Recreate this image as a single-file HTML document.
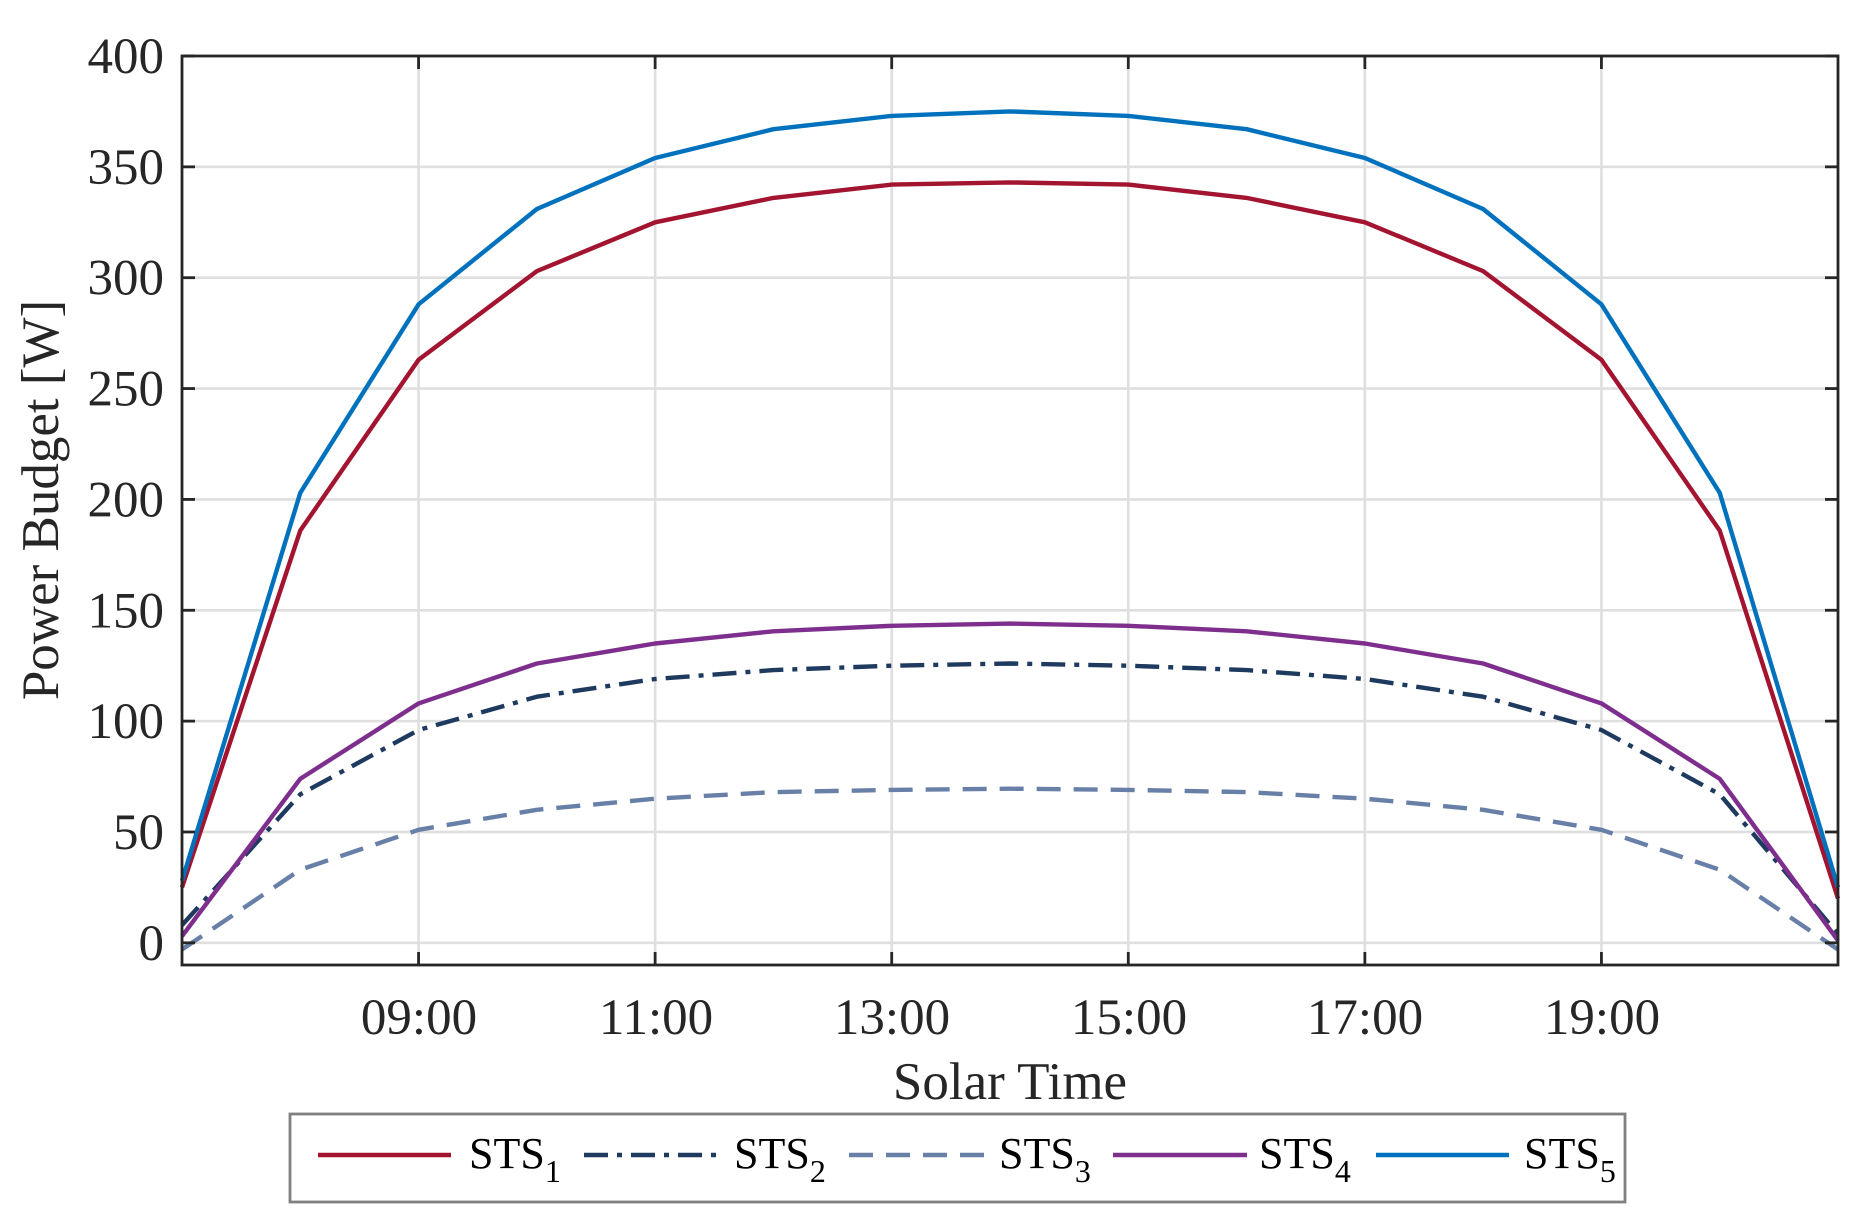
<!DOCTYPE html>
<html><head><meta charset="utf-8"><style>
html,body{margin:0;padding:0;background:#fff;}
svg{display:block;font-family:"Liberation Serif",serif;}
</style></head><body>
<svg id="s" width="1863" height="1226" viewBox="0 0 1863 1226" xmlns="http://www.w3.org/2000/svg">
<g id="grid" stroke="#dfdfdf" stroke-width="2.6"></g>
<g id="series" fill="none" stroke-width="4.4" stroke-linejoin="round"></g>
<rect x="182" y="56" width="1656" height="909" fill="none" stroke="#262626" stroke-width="2.8"/>
<g id="ticks" stroke="#262626" stroke-width="2.8"></g>
<g fill="#262626" font-size="51" text-anchor="end" id="yl"></g>
<g fill="#262626" font-size="51" text-anchor="middle">
<text x="419" y="1034">09:00</text><text x="656" y="1034">11:00</text><text x="892" y="1034">13:00</text><text x="1129" y="1034">15:00</text><text x="1365" y="1034">17:00</text><text x="1602" y="1034">19:00</text>
<text x="1010" y="1099" font-size="53">Solar Time</text>
<text transform="translate(58,500) rotate(-90)" font-size="53">Power Budget [W]</text>
</g>
<rect x="290" y="1114" width="1335" height="88" fill="#fff" stroke="#808080" stroke-width="2.8"/>
<g font-size="44" fill="#000">
<line x1="318" y1="1155" x2="451" y2="1155" stroke="#A2142F" stroke-width="4.6"/>
<text x="469" y="1168">STS<tspan font-size="32" dy="14">1</tspan></text>
<line x1="584" y1="1155" x2="719" y2="1155" stroke="#1F3A5F" stroke-width="4.6" stroke-dasharray="24 9 5 9"/>
<text x="734" y="1168">STS<tspan font-size="32" dy="14">2</tspan></text>
<line x1="849" y1="1155" x2="984" y2="1155" stroke="#6880A8" stroke-width="4.6" stroke-dasharray="24 13"/>
<text x="999" y="1168">STS<tspan font-size="32" dy="14">3</tspan></text>
<line x1="1113" y1="1155" x2="1247" y2="1155" stroke="#7E2F8E" stroke-width="4.6"/>
<text x="1259" y="1168">STS<tspan font-size="32" dy="14">4</tspan></text>
<line x1="1376" y1="1155" x2="1509" y2="1155" stroke="#0072BD" stroke-width="4.6"/>
<text x="1524" y="1168">STS<tspan font-size="32" dy="14">5</tspan></text>
</g>
</svg>
<script>
var NS="http://www.w3.org/2000/svg";
function X(h){return 182+(h-7)*1656/14;}
function Y(v){return 56+(400-v)*909/410;}
function el(p,t,a,txt){var e=document.createElementNS(NS,t);for(var k in a)e.setAttribute(k,a[k]);if(txt)e.textContent=txt;document.getElementById(p).appendChild(e);return e;}
for(var h=9;h<=19;h+=2){el("grid","line",{x1:X(h),x2:X(h),y1:56,y2:965});el("ticks","line",{x1:X(h),x2:X(h),y1:965,y2:952});el("ticks","line",{x1:X(h),x2:X(h),y1:56,y2:69});}
for(var v=0;v<=400;v+=50){el("grid","line",{x1:182,x2:1838,y1:Y(v),y2:Y(v)});el("ticks","line",{x1:182,x2:195,y1:Y(v),y2:Y(v)});el("ticks","line",{x1:1838,x2:1825,y1:Y(v),y2:Y(v)});
 el("yl","text",{x:164,y:(Y(v)+17).toFixed(1)},String(v));}
function sym(a,end){var r=a.slice();for(var i=a.length-2;i>=1;i--)r.push(a[i]);r.push(end);return r;}
var S=[
 [sym([-3,33,51,60,65,68,69,69.5],-3),"#6880A8","24 13"],
 [sym([8,67,96,111,119,123,125,126],4),"#1F3A5F","24 9 5 9"],
 [sym([3,74,108,126,135,140.5,143,144],1),"#7E2F8E",""],
 [sym([25,186,263,303,325,336,342,343],20),"#A2142F",""],
 [sym([28,203,288,331,354,367,373,375],25),"#0072BD",""]
];
S.forEach(function(s){var d="";s[0].forEach(function(v,i){d+=(i?"L":"M")+X(7+i).toFixed(1)+" "+Y(v).toFixed(1);});
 var a={d:d,stroke:s[1]};if(s[2])a["stroke-dasharray"]=s[2];el("series","path",a);});
</script>
</body></html>
